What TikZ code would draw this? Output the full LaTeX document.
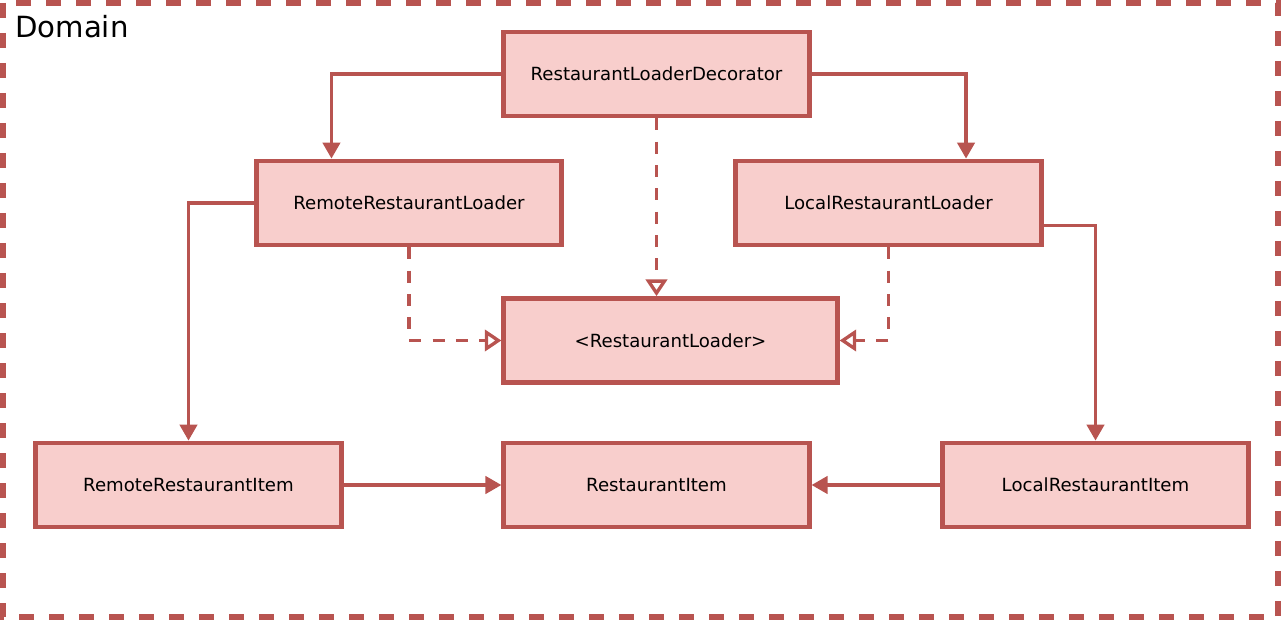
\documentclass[tikz,border=0pt]{standalone}
\usepackage{fontspec}
\setmainfont{DejaVu Sans}
\usetikzlibrary{arrows.meta,calc}
\definecolor{rstroke}{HTML}{B85450}
\definecolor{rfill}{HTML}{F8CECC}
\begin{document}
\begin{tikzpicture}[x=0.75pt,y=-0.75pt,
  box/.style={draw=rstroke,fill=rfill,line width=3.6pt,minimum width=229pt,minimum height=63pt,inner sep=0pt,font=\fontsize{13.6}{16}\selectfont},
  assoc/.style={draw=rstroke,line width=2.5pt,-{Triangle[length=12pt,width=13pt]}},
  realize/.style={draw=rstroke,line width=2.5pt,dash pattern=on 9pt off 8.5pt,-{Triangle[open,length=12.5pt,width=16pt,line width=2.5pt]}},
  outer/.style={draw=rstroke,line width=4.5pt,dash pattern=on 11pt off 11.5pt}]
\useasboundingbox (0,0) rectangle (1281,620);
\draw[outer] (3,3) rectangle (1278,617);
\node[anchor=base west,inner sep=0pt,font=\fontsize{21.9}{26}\selectfont] (title) at (15,38) {Domain};
\node[box] (dec) at (656.5,74) {RestaurantLoaderDecorator};
\node[box] (rl) at (409,203) {RemoteRestaurantLoader};
\node[box] (ll) at (888.5,203) {LocalRestaurantLoader};
\node[box,minimum width=250pt] (il) at (670.5,340.5) {<RestaurantLoader>};
\node[box] (ri) at (188.5,485) {RemoteRestaurantItem};
\node[box] (it) at (656.5,485) {RestaurantItem};
\node[box] (li) at (1095.5,485) {LocalRestaurantItem};
\draw[assoc] (dec.west) -| ($(rl.north west)!0.25!(rl.north east)$);
\draw[assoc] (dec.east) -| ($(ll.north west)!0.75!(ll.north east)$);
\draw[realize] (dec.south) -- (dec.south |- il.north);
\draw[realize] (rl.south) |- (il.west);
\draw[realize] (ll.south) |- (il.east);
\draw[assoc] (rl.west) -| (ri.north);
\draw[assoc] ($(ll.north east)!0.75!(ll.south east)$) -| (li.north);
\draw[assoc] (ri.east) -- (it.west);
\draw[assoc] (li.west) -- (it.east);
\end{tikzpicture}
\end{document}
